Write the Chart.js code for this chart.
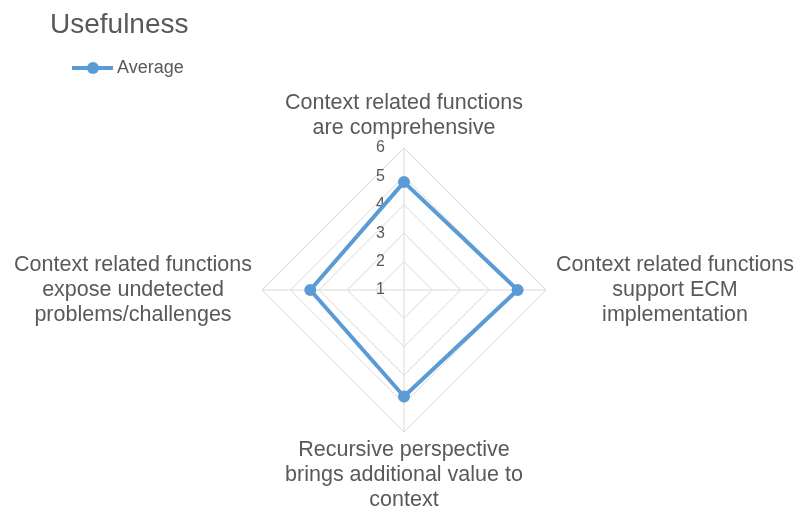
<!DOCTYPE html>
<html>
<head>
<meta charset="utf-8">
<script src="https://cdn.jsdelivr.net/npm/chart.js@4/dist/chart.umd.min.js"></script>
<style>
  html, body { margin: 0; padding: 0; background: #ffffff; }
  #wrap { width: 799px; height: 510px; position: relative; }
</style>
</head>
<body>
<div id="wrap"><canvas id="c" width="799" height="510"></canvas></div>
<script>
const chartTitle = "Usefulness";
const seriesName = "Average";
const categories = [
  ["Context related functions", "are comprehensive"],
  ["Context related functions", "support ECM", "implementation"],
  ["Recursive perspective", "brings additional value to", "context"],
  ["Context related functions", "expose undetected", "problems/challenges"]
];
const averageValues = [4.8, 5.0, 4.75, 4.3];
const tickValues = [1, 2, 3, 4, 5, 6];

const FONT = "'Liberation Sans', Arial, sans-serif";
const TEXT = "#595959";
const BLUE = "#5b9bd5";

const overlay = {
  id: "overlay",
  beforeDatasetsDraw(chart) {
    const s = chart.scales.r;
    const ctx = chart.ctx;
    ctx.save();
    ctx.font = "16px " + FONT;
    ctx.fillStyle = TEXT;
    ctx.textAlign = "right";
    ctx.textBaseline = "middle";
    tickValues.forEach(v => {
      const d = s.getDistanceFromCenterForValue(v);
      const p = s.getPointPosition(0, d);
      ctx.fillText(String(v), p.x - 19, p.y);
    });
    ctx.restore();
  },
  afterDraw(chart) {
    const s = chart.scales.r;
    const ctx = chart.ctx;
    ctx.save();
    // point labels
    ctx.font = "21.5px " + FONT;
    ctx.fillStyle = TEXT;
    const lh = 25;
    categories.forEach((lines, i) => {
      const p = s.getPointPosition(i, s.drawingArea + 8);
      const n = lines.length;
      lines.forEach((ln, k) => {
        let x, y;
        if (i === 0) { ctx.textAlign = "center"; x = p.x; y = p.y - 12 - (n - 1 - k) * lh; }
        else if (i === 2) { ctx.textAlign = "center"; x = p.x; y = p.y + 10 + k * lh; }
        else if (i === 1) { ctx.textAlign = "center"; x = p.x + 121; y = p.y + (k - (n - 1) / 2) * lh; }
        else { ctx.textAlign = "center"; x = p.x - 121; y = p.y + (k - (n - 1) / 2) * lh; }
        ctx.textBaseline = "middle";
        ctx.fillText(ln, x, y);
      });
    });
    // title
    ctx.font = "28px " + FONT;
    ctx.textAlign = "left";
    ctx.textBaseline = "alphabetic";
    ctx.fillText(chartTitle, 50, 33);
    // legend
    ctx.strokeStyle = BLUE;
    ctx.lineWidth = 4;
    ctx.lineCap = "butt";
    ctx.beginPath();
    ctx.moveTo(72, 68);
    ctx.lineTo(113, 68);
    ctx.stroke();
    ctx.fillStyle = BLUE;
    ctx.beginPath();
    ctx.arc(93, 68, 6, 0, Math.PI * 2);
    ctx.fill();
    ctx.fillStyle = TEXT;
    ctx.font = "18px " + FONT;
    ctx.textBaseline = "middle";
    ctx.fillText(seriesName, 117, 68);
    ctx.restore();
  }
};

new Chart(document.getElementById("c"), {
  type: "radar",
  data: {
    labels: categories,
    datasets: [{
      label: seriesName,
      data: averageValues,
      borderColor: BLUE,
      backgroundColor: BLUE,
      borderWidth: 4,
      borderJoinStyle: "round",
      pointRadius: 6,
      pointBackgroundColor: BLUE,
      pointBorderColor: BLUE,
      pointBorderWidth: 0,
      fill: false
    }]
  },
  options: {
    responsive: false,
    animation: false,
    devicePixelRatio: 1,
    layout: { padding: { left: 262, right: 253, top: 148, bottom: 78 } },
    plugins: {
      legend: { display: false },
      title: { display: false },
      tooltip: { enabled: false }
    },
    scales: {
      r: {
        min: 1,
        max: 6,
        ticks: { display: false, stepSize: 1 },
        pointLabels: { display: false },
        grid: { color: "#d9d9d9", lineWidth: 1 },
        angleLines: { color: "#d9d9d9", lineWidth: 1 }
      }
    }
  },
  plugins: [overlay]
});
</script>
</body>
</html>
